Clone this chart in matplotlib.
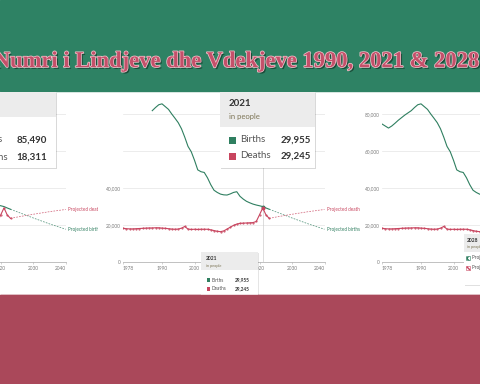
import matplotlib
matplotlib.use("Agg")
import matplotlib.pyplot as plt
import matplotlib.patheffects as pe
from matplotlib.patches import Rectangle
from matplotlib.transforms import Bbox, TransformedBbox

TITLE = "Numri i Lindjeve dhe Vdekjeve 1990, 2021 & 2028"

# annual values, people
years = list(range(1978, 2024))
births = [74600, 73500, 72400, 73500, 75000, 76600, 78000, 79400, 80600, 81800,
          83500, 85000, 85490, 84000, 82500, 80000, 77700, 75300, 72000, 67500,
          62500, 59600, 55000, 49800, 48800, 48400, 45500, 41800, 38800, 37600,
          36700, 36300, 36200, 36800, 37600, 38000, 35500, 34000, 32800, 32000,
          31300, 30800, 30400, 29955, 29200, 28500]
deaths = [18200, 18000, 17900, 17900, 18000, 18100, 18200, 18300, 18400, 18400,
          18500, 18500, 18311, 18200, 18000, 17800, 17700, 17800, 18300, 19200,
          17800, 17600, 17700, 17600, 17700, 17700, 17700, 17400, 17000, 16600,
          16400, 16800, 17800, 18800, 19800, 20500, 20900, 21000, 21100, 21200,
          21300, 21900, 25500, 29245, 25400, 23600]

proj_years = [2023, 2026, 2030, 2035, 2040]
proj_births = [28500, 26500, 23800, 20600, 17700]
proj_deaths = [23600, 24600, 25800, 27200, 28400]

x_ticks = [1978, 1990, 2000, 2010, 2020, 2030, 2040]
y_ticks = [0, 20000, 40000, 60000, 80000]

GREEN = "#2f7f60"
RED = "#c8455f"
BAND_GREEN = "#2e8264"
BAND_RED = "#aa485a"
FONT = ["Lato", "DejaVu Sans"]

W, H = 480, 384
fig = plt.figure(figsize=(W / 100, H / 100), dpi=100)


def px_axes(x0, y0, x1, y1, z):
    return fig.add_axes([x0 / W, 1 - y1 / H, (x1 - x0) / W, (y1 - y0) / H], zorder=z)


def region_box(x0, x1):
    bb = Bbox.from_extents(x0 / W, 1 - 295 / H, x1 / W, 1 - 91 / H)
    return TransformedBbox(bb, fig.transFigure)


# background bands + title
bg = px_axes(0, 0, W, H, 0)
bg.set_xlim(0, W)
bg.set_ylim(H, 0)
bg.set_axis_off()
bg.add_patch(Rectangle((0, 0), W, 91, color=BAND_GREEN))
bg.add_patch(Rectangle((0, 295), W, H - 295, color=BAND_RED))

title = bg.text(237, 67, TITLE, ha="center", va="baseline", fontsize=24,
                family="Liberation Serif", weight="bold", color="#c4506a",
                path_effects=[pe.SimplePatchShadow(offset=(1.3, -1.3), shadow_rgbFace="#163a2c", alpha=0.75),
                              pe.Stroke(linewidth=1.1, foreground="#efc3cb"), pe.Normal()])
fig.canvas.draw()
w = title.get_window_extent().width
title.set_fontsize(24 * 486 / w)

# chart scale (all three screenshots share it)
PX_YEAR = 3.25
PX_PERSON = 37 / 20000
BASE = 262
XLIM = (1978, 2040)
YLIM = (0, 90000)


def chart(ref_year, ref_px, region, first_year, hide_labels=()):
    x0 = ref_px + (XLIM[0] - ref_year) * PX_YEAR
    x1 = ref_px + (XLIM[1] - ref_year) * PX_YEAR
    ax = px_axes(x0, BASE - YLIM[1] * PX_PERSON, x1, BASE, 2)
    ax.patch.set_visible(False)
    i0 = years.index(first_year)
    ax.plot(years[i0:], births[i0:], color=GREEN, lw=0.8, zorder=3)
    ax.plot(years, deaths, color=RED, lw=0.8, marker="o", ms=0.5, zorder=3)
    ax.plot(proj_years, proj_births, color=GREEN, lw=0.55, ls=(0, (2.2, 1.6)), alpha=0.8)
    ax.plot(proj_years, proj_deaths, color=RED, lw=0.55, ls=(0, (2.2, 1.6)), alpha=0.8)
    ax.set_xlim(*XLIM)
    ax.set_ylim(*YLIM)
    for s in ["top", "right", "left"]:
        ax.spines[s].set_visible(False)
    ax.spines["bottom"].set_color("#a8a8a8")
    ax.spines["bottom"].set_linewidth(0.5)
    ax.set_xticks(x_ticks)
    ax.set_xticklabels([str(y) for y in x_ticks], family=FONT)
    labs = ax.get_xticklabels()
    labs[0].set_ha("left")
    labs[-1].set_ha("right")
    ax.set_yticks(y_ticks)
    ax.set_yticklabels(["" if v in hide_labels else f"{v:,}" for v in y_ticks], family=FONT)
    ax.tick_params(axis="x", labelsize=3.4, labelcolor="#7a7a7a", length=1.5, width=0.4,
                   color="#b0b0b0", pad=1.5)
    ax.tick_params(axis="y", labelsize=3.4, labelcolor="#7a7a7a", length=0, pad=1.5)
    ax.grid(axis="y", color="#e4e4e4", lw=0.5)
    ax.set_axisbelow(True)
    clip = region_box(*region)
    for txt, vals, col in [("Projected deaths", proj_deaths, RED), ("Projected births", proj_births, GREEN)]:
        a = ax.annotate(txt, xy=(proj_years[-1], vals[-1]), xytext=(1.5, 0), textcoords="offset points",
                        va="center", ha="left", fontsize=3.3, color=col, family=FONT,
                        annotation_clip=False)
        a.set_clip_box(clip)
        a.set_clip_on(True)
    return ax


left = chart(2021, 4, (0, 98), 1978)
mid = chart(1990, 162, (98, 360), 1987, hide_labels=(60000, 80000))
right = chart(1990, 421, (360, 480), 1978)

# hover marker in the middle screenshot
k = years.index(2021)
mid.axvline(2021, ymax=(BASE - 165) / (YLIM[1] * PX_PERSON), color="#cfcfcf", lw=0.5, zorder=2)
mid.plot([2021], [births[k]], "o", color=GREEN, ms=1.8, zorder=4)
mid.plot([2021], [deaths[k]], "o", color=RED, ms=1.8, zorder=4)

# tooltips, pixel coordinates
top = px_axes(0, 0, W, H, 10)
top.set_xlim(0, W)
top.set_ylim(H, 0)
top.set_axis_off()


def tip_box(x0, x1, y0, ymid, y1, alpha=0.15):
    top.add_patch(Rectangle((x0, y0), x1 - x0, y1 - y0, fc="white", ec="none",
                            path_effects=[pe.SimplePatchShadow(offset=(0.8, -0.8), shadow_rgbFace="k", alpha=alpha),
                                          pe.Normal()]))
    top.add_patch(Rectangle((x0, y0), x1 - x0, ymid - y0, fc="#ececec", ec="none"))


def tip_rows(x_sq, x_lab, x_val, ys, yr, size, sq):
    i = years.index(yr)
    rows = [("Births", births[i], GREEN), ("Deaths", deaths[i], RED)]
    for (name, val, col), y in zip(rows, ys):
        top.add_patch(Rectangle((x_sq, y - sq / 2), sq, sq, fc=col, ec="none"))
        top.text(x_lab, y, name, fontsize=size, color="#555555", va="center", ha="left", family=FONT)
        top.text(x_val, y, f"{val:,}", fontsize=size, color="#333333", va="center", ha="right",
                 family=FONT, weight="bold")


# left (1990)
tip_box(-5, 56, 92, 117, 168)
tip_rows(-36, -23, 47, [140, 157], 1990, 7, 7)

# middle large (2021)
tip_box(220, 315, 92, 127, 168)
top.text(229, 103, "2021", fontsize=7, weight="bold", color="#333333", va="center", family=FONT)
top.text(229, 116, "in people", fontsize=5.5, color="#7d7556", va="center", family=FONT)
tip_rows(229, 240.5, 311, [140, 156], 2021, 7, 7)

# middle small (2021)
tip_box(201, 258, 252, 270, 300, alpha=0.1)
top.text(206, 259, "2021", fontsize=3.5, weight="bold", color="#333333", va="center", family=FONT)
top.text(206, 265.5, "in people", fontsize=2.8, color="#7d7556", va="center", family=FONT)
tip_rows(206.5, 212, 250, [280, 289], 2021, 3.4, 3.5)

# right (2028)
tip_box(464, 490, 234, 252, 285, alpha=0.12)
top.text(467, 240, "2028", fontsize=3.5, weight="bold", color="#333333", va="center", family=FONT)
top.text(467, 247, "in people", fontsize=2.8, color="#7d7556", va="center", family=FONT)
for y, col, name in [(258, GREEN, "Projected births"), (268, RED, "Projected deaths")]:
    top.add_patch(Rectangle((466, y - 2), 4, 4, fc="white", ec=col, lw=0.4, hatch="xxxx"))
    top.text(472, y, name, fontsize=3.4, color="#555555", va="center", family=FONT)

# red band hides tooltip overflow, as in the screenshots
top.add_patch(Rectangle((0, 295), W, H - 295, color=BAND_RED))

fig.savefig("out.png", dpi=100)
